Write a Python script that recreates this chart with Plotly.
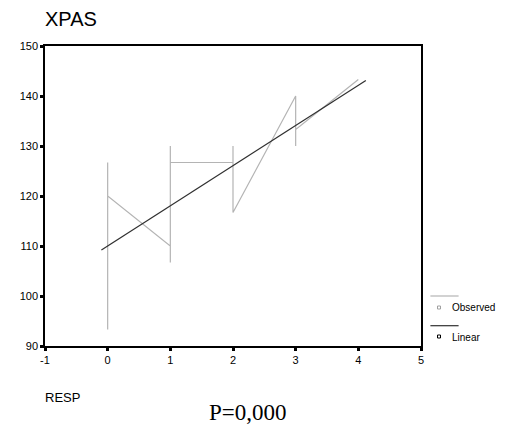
import plotly.graph_objects as go

# Observed data (RESP vs XPAS), in data order as drawn by the line
obs_x = [0, 0, 0, 0, 0, 0, 0, 0,
         1, 1, 1, 1,
         2, 2, 2,
         3, 3, 3,
         4]
obs_y = [100, 93.3, 126.7, 103.3, 116.7, 106.7, 110, 120,
         110, 106.7, 130, 126.7,
         126.7, 130, 116.7,
         140, 130, 133.3,
         143.3]

# Linear fit line (endpoints)
lin_x = [-0.1, 4.12]
lin_y = [109.2, 143.1]

x_ticks = [-1, 0, 1, 2, 3, 4, 5]
y_ticks = [90, 100, 110, 120, 130, 140, 150]

OBS_COLOR = "#b4b4b4"
LIN_COLOR = "#303030"

fig = go.Figure()
fig.add_trace(go.Scatter(x=obs_x, y=obs_y, mode="lines",
                         line=dict(color=OBS_COLOR, width=1.2),
                         name="Observed", showlegend=False, hoverinfo="skip"))
fig.add_trace(go.Scatter(x=lin_x, y=lin_y, mode="lines",
                         line=dict(color=LIN_COLOR, width=1.2),
                         name="Linear", showlegend=False, hoverinfo="skip"))

axis_common = dict(showline=True, linecolor="black", linewidth=1.5, mirror=True,
                   showgrid=False, zeroline=False, ticks="outside", ticklen=3,
                   tickwidth=3, tickcolor="black",
                   tickfont=dict(family="Arial, Liberation Sans", size=11, color="black"))

fig.update_xaxes(range=[-1, 5], tickvals=x_ticks, ticktext=[str(v) for v in x_ticks],
                 **axis_common)
fig.update_yaxes(range=[90, 150], tickvals=y_ticks, ticktext=[str(v) for v in y_ticks],
                 **axis_common)

# Custom legend (SPSS style) to the right of the plot
shapes = [
    dict(type="line", xref="paper", yref="paper", x0=1.025, x1=1.1,
         y0=(346 - 296) / 300, y1=(346 - 296) / 300,
         line=dict(color=OBS_COLOR, width=1.2)),
    dict(type="rect", xref="paper", yref="paper",
         x0=(437.5 - 45) / 376, x1=(440.5 - 45) / 376,
         y0=(346 - 309) / 300, y1=(346 - 306) / 300,
         line=dict(color="#a0a0a0", width=1), fillcolor="white"),
    dict(type="line", xref="paper", yref="paper", x0=1.025, x1=1.1,
         y0=(346 - 325.7) / 300, y1=(346 - 325.7) / 300,
         line=dict(color=LIN_COLOR, width=1.2)),
    dict(type="rect", xref="paper", yref="paper",
         x0=(437.5 - 45) / 376, x1=(440.5 - 45) / 376,
         y0=(346 - 338) / 300, y1=(346 - 335) / 300,
         line=dict(color="black", width=1), fillcolor="white"),
]

annotations = [
    dict(text="Observed", xref="paper", yref="paper",
         x=(450 - 45) / 376, y=(346 - 307.5) / 300, xanchor="left", yanchor="middle",
         showarrow=False, font=dict(family="Arial, Liberation Sans", size=10, color="black")),
    dict(text="Linear", xref="paper", yref="paper",
         x=(450 - 45) / 376, y=(346 - 337) / 300, xanchor="left", yanchor="middle",
         showarrow=False, font=dict(family="Arial, Liberation Sans", size=10, color="black")),
    dict(text="XPAS", xref="paper", yref="paper",
         x=(43 - 45) / 376, y=(346 - 19) / 300, xanchor="left", yanchor="middle",
         showarrow=False, font=dict(family="Arial, Liberation Sans", size=20, color="black")),
    dict(text="RESP", xref="paper", yref="paper",
         x=(43 - 45) / 376, y=(346 - 397) / 300, xanchor="left", yanchor="middle",
         showarrow=False, font=dict(family="Arial, Liberation Sans", size=13, color="black")),
    dict(text="P=0,000", xref="paper", yref="paper",
         x=(248 - 45) / 376, y=(346 - 412) / 300, xanchor="center", yanchor="middle",
         showarrow=False, font=dict(family="Liberation Serif, Times New Roman", size=23, color="black")),
]

fig.update_layout(
    width=509, height=426,
    margin=dict(l=45, r=88, t=46, b=80),
    plot_bgcolor="white", paper_bgcolor="white",
    shapes=shapes, annotations=annotations,
    showlegend=False,
)

fig.write_html("out.html")
